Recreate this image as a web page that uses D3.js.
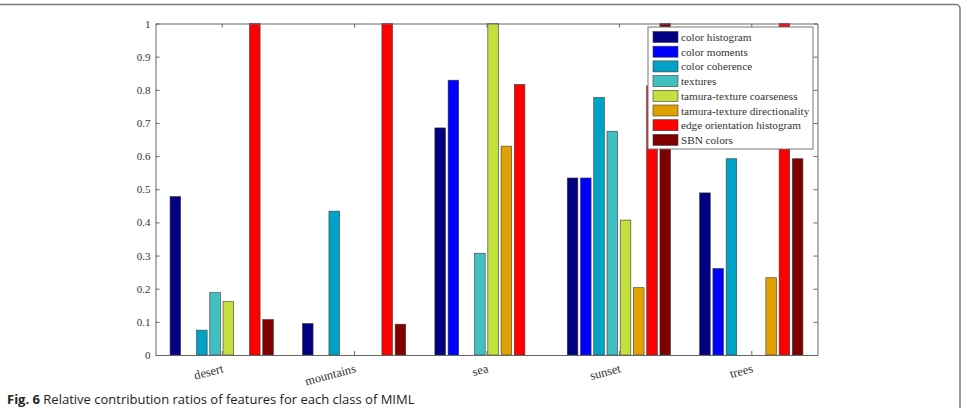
<!DOCTYPE html>
<html>
<head>
<meta charset="utf-8">
<script src="https://cdn.jsdelivr.net/npm/d3@7"></script>
<style>
  body { margin: 0; background: #fff; }
  svg { display: block; }
</style>
</head>
<body>
<script>
// classes of MIML and the features compared
const categories = ["desert", "mountains", "sea", "sunset", "trees"];
const features = [
  "color histogram",
  "color moments",
  "color coherence",
  "textures",
  "tamura-texture coarseness",
  "tamura-texture directionality",
  "edge orientation histogram",
  "SBN colors"
];
const featureColors = ["#000080", "#0000ff", "#00a2c6", "#40c0c0", "#c2e03e", "#e0a000", "#ff0000", "#800000"];

// values per feature, one per category
const colorHistogram       = [0.478, 0.095, 0.685, 0.534, 0.489];
const colorMoments         = [0,     0,     0.829, 0.534, 0.261];
const colorCoherence       = [0.075, 0.434, 0,     0.777, 0.592];
const textures             = [0.188, 0,     0.307, 0.675, 0];
const tamuraCoarseness     = [0.161, 0,     1.0,   0.407, 0];
const tamuraDirectionality = [0,     0,     0.630, 0.203, 0.233];
const edgeOrientation      = [1.0,   1.0,   0.816, 0.812, 1.0];
const sbnColors            = [0.107, 0.093, 0,     1.0,   0.592];

const series = [colorHistogram, colorMoments, colorCoherence, textures,
  tamuraCoarseness, tamuraDirectionality, edgeOrientation, sbnColors];

const yTicks = [0, 0.1, 0.2, 0.3, 0.4, 0.5, 0.6, 0.7, 0.8, 0.9, 1];
const yTickLabels = ["0", "0.1", "0.2", "0.3", "0.4", "0.5", "0.6", "0.7", "0.8", "0.9", "1"];

const serif = "'Liberation Serif', 'DejaVu Serif', serif";
const width = 968, height = 408;
const plot = {left: 155.5, right: 817.5, top: 23.5, bottom: 355};

const svg = d3.select("body").append("svg")
    .attr("width", width)
    .attr("height", height)
    .attr("font-family", serif);

// page frame (figure box, top-right rounded)
svg.append("path")
    .attr("d", "M0,4.5H956a4,4 0 0 1 4,4V408")
    .attr("fill", "none")
    .attr("stroke", "#7a7a7a")
    .attr("stroke-width", 1.5);

const x = d3.scaleLinear().domain([0.5, 5.5]).range([plot.left, plot.right]);
const y = d3.scaleLinear().domain([0, 1]).range([plot.bottom, plot.top]);

// grouped bars: 8 bars per class, 0.1 apart, 0.08 wide (matlab style)
const n = features.length;
const step = 0.1, barW = 0.08;
const bars = [];
series.forEach((vals, j) => {
  vals.forEach((v, i) => {
    if (v > 0) bars.push({cat: i + 1, j, v});
  });
});

svg.append("g")
  .selectAll("rect")
  .data(bars)
  .join("rect")
    .attr("x", d => x(d.cat + (d.j - (n - 1) / 2) * step - barW / 2))
    .attr("width", d => x(barW) - x(0))
    .attr("y", d => y(d.v))
    .attr("height", d => y(0) - y(d.v))
    .attr("fill", d => featureColors[d.j])
    .attr("stroke", "#3a3a3a")
    .attr("stroke-width", 0.6);

// axes box
const tickVals = categories.map((c, i) => i + 1);
const axisStyle = g => {
  g.attr("font-family", serif);
  g.select(".domain").attr("stroke", "#666");
  g.selectAll(".tick line").attr("stroke", "#666");
  g.selectAll(".tick text").attr("fill", "#333").attr("font-size", 11);
};

svg.append("g")
    .attr("transform", `translate(${plot.left},0)`)
    .call(d3.axisLeft(y).tickValues(yTicks).tickSize(-4).tickPadding(5).tickSizeOuter(0)
      .tickFormat((d, i) => yTickLabels[i]))
    .call(axisStyle);

svg.append("g")
    .attr("transform", `translate(${plot.right},0)`)
    .call(d3.axisRight(y).tickValues(yTicks).tickSize(-4).tickSizeOuter(0).tickFormat(""))
    .call(axisStyle);

svg.append("g")
    .attr("transform", `translate(0,${plot.top})`)
    .call(d3.axisTop(x).tickValues(tickVals).tickSize(-4).tickSizeOuter(0).tickFormat(""))
    .call(axisStyle);

const bottomAxis = svg.append("g")
    .attr("transform", `translate(0,${plot.bottom})`)
    .call(d3.axisBottom(x).tickValues(tickVals).tickSize(-4).tickSizeOuter(0).tickFormat(""))
    .call(axisStyle);

// rotated category labels
bottomAxis.selectAll(".tick")
  .append("text")
    .attr("transform", "translate(2,17) rotate(-15)")
    .attr("text-anchor", "end")
    .attr("fill", "#333")
    .attr("font-family", serif)
    .attr("font-size", 12.5)
    .text((d, i) => categories[i]);

// legend
const lg = svg.append("g").attr("transform", "translate(648,27)");
lg.append("rect")
    .attr("width", 165)
    .attr("height", 122)
    .attr("fill", "#fff")
    .attr("stroke", "#777")
    .attr("stroke-width", 1);

const item = lg.selectAll("g.item")
  .data(features)
  .join("g")
    .attr("class", "item")
    .attr("transform", (d, i) => `translate(5,${4.5 + i * 14.7})`);

item.append("rect")
    .attr("width", 25)
    .attr("height", 11)
    .attr("fill", (d, i) => featureColors[i])
    .attr("stroke", "#3a3a3a")
    .attr("stroke-width", 0.6);

item.append("text")
    .attr("x", 28)
    .attr("y", 9.5)
    .attr("fill", "#333")
    .attr("font-size", 11.2)
    .text(d => d);

// caption
const cap = svg.append("text")
    .attr("x", 7)
    .attr("y", 404)
    .attr("font-family", "'Open Sans', 'Noto Sans', sans-serif")
    .attr("font-size", 13)
    .attr("fill", "#222");
cap.append("tspan").attr("font-weight", "bold").text("Fig. 6");
cap.append("tspan").text(" Relative contribution ratios of features for each class of MIML");
</script>
</body>
</html>
